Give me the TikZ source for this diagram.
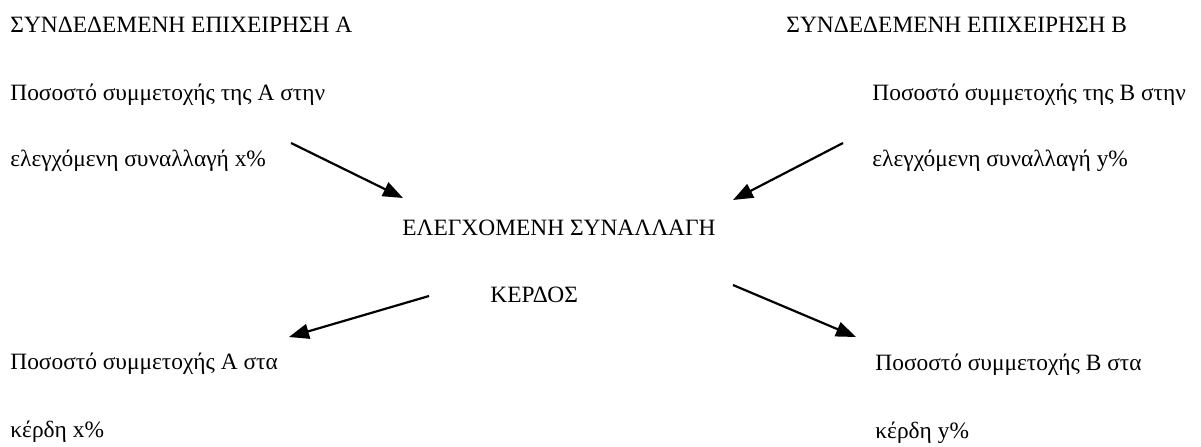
\documentclass[tikz,border=0pt]{standalone}
\usepackage{fontspec}
\setmainfont{Liberation Serif}
\usetikzlibrary{arrows.meta, positioning}

\begin{document}
\begin{tikzpicture}[
    x=0.5pt, y=-0.5pt,
    txt/.style={anchor=base west, inner sep=0pt, font=\fontsize{11.7}{14}\selectfont},
    arrow/.style={line width=1.1pt, -{Triangle[length=10pt, width=7.5pt]}}
]
    \useasboundingbox (0,0) rectangle (1201,446);

    % left company
    \node[txt] (compA) at (10,32) {ΣΥΝΔΕΔΕΜΕΝΗ ΕΠΙΧΕΙΡΗΣΗ Α};
    \node[txt] (shareA1) at (10,100) {Ποσοστό συμμετοχής της Α στην};
    \node[txt] (shareA2) at (10,166) {ελεγχόμενη συναλλαγή x\%};

    % right company
    \node[txt] (compB) at (786,32) {ΣΥΝΔΕΔΕΜΕΝΗ ΕΠΙΧΕΙΡΗΣΗ Β};
    \node[txt] (shareB1) at (872,100) {Ποσοστό συμμετοχής της Β στην};
    \node[txt] (shareB2) at (872,166) {ελεγχόμενη συναλλαγή y\%};

    % controlled transaction
    \node[txt] (trans) at (402,235) {ΕΛΕΓΧΟΜΕΝΗ ΣΥΝΑΛΛΑΓΗ};
    \node[txt] (profit) at (490,302) {ΚΕΡΔΟΣ};

    % profit shares
    \node[txt] (gainA1) at (10,369) {Ποσοστό συμμετοχής Α στα};
    \node[txt] (gainA2) at (10,437) {κέρδη x\%};
    \node[txt] (gainB1) at (875,370) {Ποσοστό συμμετοχής Β στα};
    \node[txt] (gainB2) at (875,438) {κέρδη y\%};

    % arrow ends
    \coordinate (a1) at (291,143);
    \coordinate (a2) at (403,198);
    \coordinate (b1) at (843,143);
    \coordinate (b2) at (733,200);
    \coordinate (c1) at (429,296);
    \coordinate (c2) at (289,337);
    \coordinate (d1) at (733,285);
    \coordinate (d2) at (856,337);

    \draw[arrow] (a1) -- (a2);
    \draw[arrow] (b1) -- (b2);
    \draw[arrow] (c1) -- (c2);
    \draw[arrow] (d1) -- (d2);

\end{tikzpicture}
\end{document}
